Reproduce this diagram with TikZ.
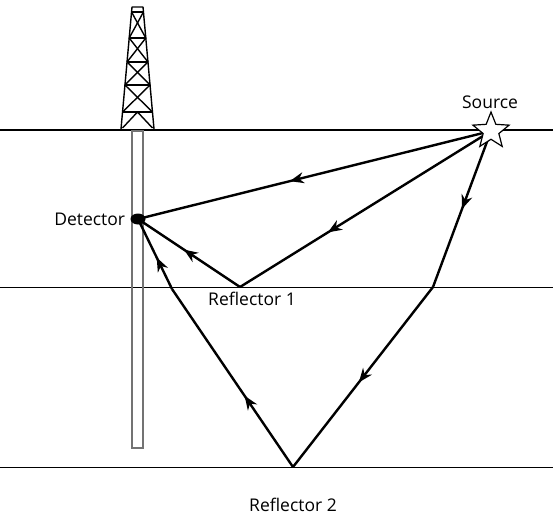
\documentclass[tikz,border=0pt]{standalone}
\usepackage{fontspec}
\setmainfont{Open Sans}
\usetikzlibrary{arrows.meta,positioning,shapes.geometric,decorations.markings}
\definecolor{wellgray}{gray}{0.45}
\tikzset{
  ground/.style={draw=black, line width=2.3pt},
  layer/.style={draw=black, line width=0.8pt},
  ray/.style={draw=black, line width=2.4pt, line join=miter},
  mid/.style={postaction={decorate, decoration={markings,
      mark=at position #1 with {\arrow{Stealth[length=14pt,width=11pt,inset=4.5pt]}}}}},
  lbl/.style={font=\fontsize{17.5}{20}\selectfont, inner sep=1pt},
  tower/.style={draw=black, line width=1.4pt, line join=round},
}

\begin{document}
\begin{tikzpicture}[x=1pt, y=-1pt]
  \useasboundingbox (0,0) rectangle (553,523);

  % surface and reflecting horizons
  \coordinate (gl) at (0,130);   \coordinate (gr) at (553,130);
  \coordinate (r1l) at (0,287);  \coordinate (r1r) at (553,287);
  \coordinate (r2l) at (0,467);  \coordinate (r2r) at (553,467);
  \draw[ground] (gl) -- (gr);
  \draw[layer] (r1l) -- (r1r);
  \draw[layer] (r2l) -- (r2r);

  % borehole
  \draw[wellgray, line width=1.3pt] (132,131) rectangle (143,448);

  % derrick
  \draw[tower] (121,129) -- (132,7) -- (143,7) -- (154,129);
  \draw[tower] (131.5,12) -- (143.5,12);
  \foreach \ya/\yb in {12/38, 38/62, 62/85, 85/112} {
    \pgfmathsetmacro{\la}{132-11*(\ya-7)/122}
    \pgfmathsetmacro{\ra}{143+11*(\ya-7)/122}
    \pgfmathsetmacro{\lb}{132-11*(\yb-7)/122}
    \pgfmathsetmacro{\rb}{143+11*(\yb-7)/122}
    \draw[tower] (\la,\ya) -- (\rb,\yb);
    \draw[tower] (\ra,\ya) -- (\lb,\yb);
    \draw[tower] (\lb,\yb) -- (\rb,\yb);
  }
  \draw[tower] (122.5,128) -- (137.5,112) -- (152.5,128);

  % ray points
  \coordinate (src) at (491,131);
  \coordinate (hit1) at (240,287);
  \coordinate (bend) at (433,287);
  \coordinate (hit2) at (293,467);
  \coordinate (back) at (172,289);
  \coordinate (rx) at (138,219);

  % direct, reflector 1 and reflector 2 paths
  \draw[ray, mid=0.57] (src) -- (rx);
  \draw[ray, mid=0.65] (src) -- (hit1);
  \draw[ray, mid=0.55] (hit1) -- (rx);
  \draw[ray, mid=0.5] (src) -- (bend);
  \draw[ray, mid=0.53] (bend) -- (hit2);
  \draw[ray, mid=0.4] (hit2) -- (back);
  \draw[ray, mid=0.45] (back) -- (rx);

  % source and detector
  \node[star, star points=5, star point ratio=2.3, minimum size=38pt,
        inner sep=0pt, draw=black, fill=white, line width=1.2pt] (star) at (src) {};
  \node[ellipse, fill=black, minimum width=15pt, minimum height=11pt,
        inner sep=0pt] (det) at (rx) {};

  \node[lbl] (srclbl) at (490,102) {Source};
  \node[lbl, left=4pt of det] (detlbl) {Detector};
  \node[lbl] (ref1) at (252,299) {Reflector 1};
  \node[lbl] (ref2) at (293,505) {Reflector 2};
\end{tikzpicture}
\end{document}
